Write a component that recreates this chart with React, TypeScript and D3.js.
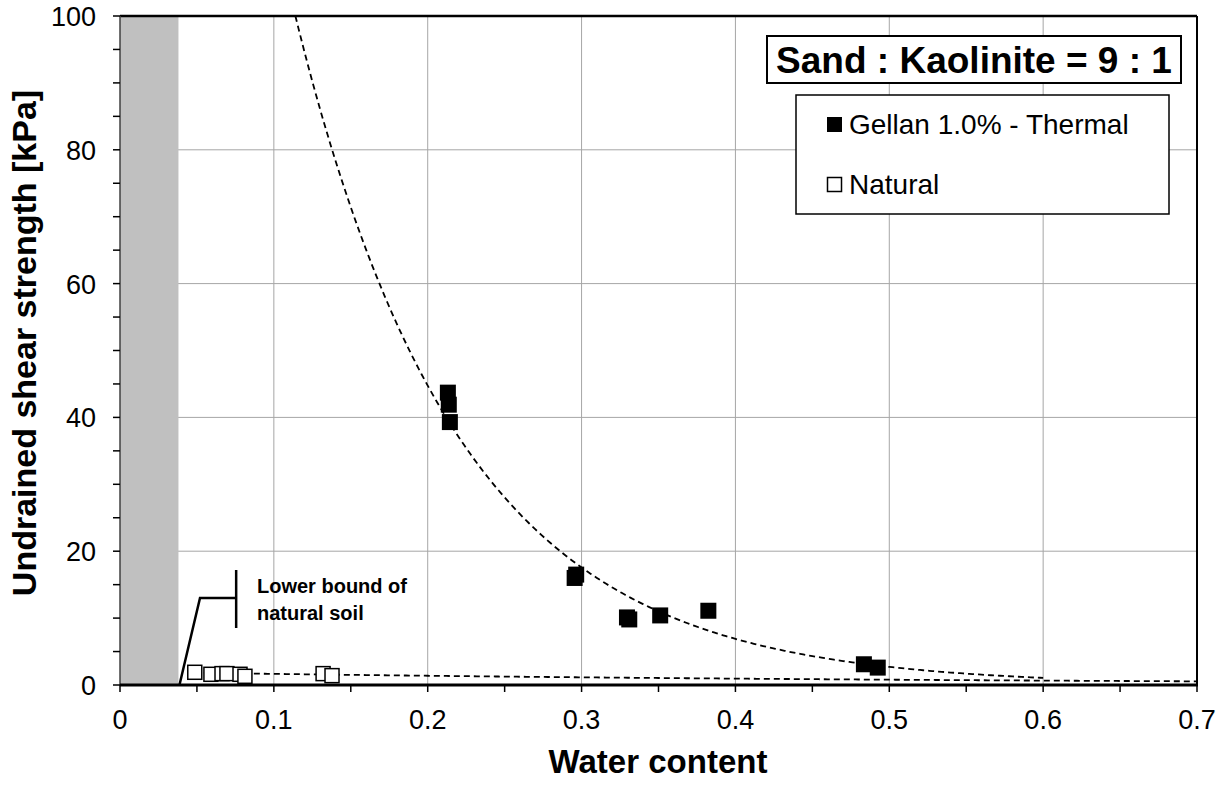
import React from "react";
import * as d3 from "d3";

const xTicks = [0, 0.1, 0.2, 0.3, 0.4, 0.5, 0.6, 0.7];
const yTicks = [0, 20, 40, 60, 80, 100];
const xMinor = [0.05, 0.15, 0.25, 0.35, 0.45, 0.55, 0.65];
const yMinor = [5, 10, 15, 25, 30, 35, 45, 50, 55, 65, 70, 75, 85, 90, 95];

const gellanX = [0.2131, 0.2137, 0.2144, 0.2955, 0.2965, 0.3295, 0.3310, 0.3511, 0.3824, 0.4835, 0.4925];
const gellanY = [43.7, 41.9, 39.3, 16.0, 16.5, 10.1, 9.8, 10.4, 11.1, 3.1, 2.6];

const naturalX = [0.0486, 0.0591, 0.0663, 0.0695, 0.078, 0.0812, 0.132, 0.1378];
const naturalY = [1.9, 1.6, 1.7, 1.7, 1.6, 1.3, 1.7, 1.4];

// trendline parameters (y = a * exp(-b x))
const gellanFit = { a: 100 * Math.exp(9.35 * 0.114), b: 9.35, x0: 0.114, x1: 0.6 };
const naturalFit = { a: 2.0, b: 1.85, x0: 0.048, x1: 0.7 };

const lowerBound = 0.038;

export default function App() {
  const W = 1231, H = 808;
  const left = 120, right = 1197, top = 16, bottom = 685;
  const x = d3.scaleLinear().domain([0, 0.7]).range([left, right]);
  const y = d3.scaleLinear().domain([0, 100]).range([bottom, top]);
  const font = "'Liberation Sans', Arial, sans-serif";

  const fitPath = (f: { a: number; b: number; x0: number; x1: number }) => {
    const xs = d3.range(f.x0, f.x1 + 1e-9, 0.002);
    return d3.line<number>().x((v) => x(v)).y((v) => y(f.a * Math.exp(-f.b * v)))(xs) || "";
  };

  const gs = 16, ns = 14;

  return (
    <svg width={W} height={H} style={{ position: "absolute", left: 0, top: 0, background: "#fff" }}>
      <rect x={0} y={0} width={W} height={H} fill="#fff" />
      {/* grid */}
      {xTicks.slice(1, -1).map((t) => (
        <line key={"gx" + t} x1={x(t)} x2={x(t)} y1={top} y2={bottom} stroke="#a6a6a6" strokeWidth={1} />
      ))}
      {yTicks.slice(1, -1).map((t) => (
        <line key={"gy" + t} x1={left} x2={right} y1={y(t)} y2={y(t)} stroke="#a6a6a6" strokeWidth={1} />
      ))}
      {/* gray band */}
      <rect x={x(0)} y={top} width={x(lowerBound) - x(0)} height={bottom - top} fill="#c0c0c0" />
      {/* frame */}
      <line x1={left} x2={right} y1={top} y2={top} stroke="#000" strokeWidth={2.5} />
      <line x1={right} x2={right} y1={top} y2={bottom} stroke="#000" strokeWidth={2} />
      <line x1={left} x2={left} y1={top} y2={bottom} stroke="#404040" strokeWidth={1.5} />
      <line x1={left} x2={right + 1} y1={bottom} y2={bottom} stroke="#000" strokeWidth={3} />
      {/* ticks */}
      {[...xTicks, ...xMinor].map((t) => (
        <line key={"tx" + t} x1={x(t)} x2={x(t)} y1={bottom} y2={bottom + 7} stroke="#000" strokeWidth={1.5} />
      ))}
      {[...yTicks, ...yMinor].map((t) => (
        <line key={"ty" + t} x1={left - 7} x2={left} y1={y(t)} y2={y(t)} stroke="#000" strokeWidth={1.5} />
      ))}
      {xTicks.map((t) => (
        <text key={"lx" + t} x={x(t)} y={bottom + 44} textAnchor="middle" fontFamily={font} fontSize={27} fill="#000">
          {t === 0 ? "0" : d3.format(".1f")(t)}
        </text>
      ))}
      {yTicks.map((t) => (
        <text key={"ly" + t} x={left - 24} y={y(t) + 10} textAnchor="end" fontFamily={font} fontSize={27} fill="#000">
          {t}
        </text>
      ))}
      {/* fits */}
      <path d={fitPath(gellanFit)} fill="none" stroke="#000" strokeWidth={1.8} strokeDasharray="6,4" />
      <path d={fitPath(naturalFit)} fill="none" stroke="#000" strokeWidth={1.8} strokeDasharray="6,4" />
      {/* natural points */}
      {naturalX.map((v, i) => (
        <rect key={"n" + i} x={x(v) - ns / 2} y={y(naturalY[i]) - ns / 2} width={ns} height={ns} fill="#fff" stroke="#000" strokeWidth={1.5} />
      ))}
      {/* gellan points */}
      {gellanX.map((v, i) => (
        <rect key={"g" + i} x={x(v) - gs / 2} y={y(gellanY[i]) - gs / 2} width={gs} height={gs} fill="#000" />
      ))}
      {/* lower bound annotation */}
      <polyline points={`${x(lowerBound) + 1},${bottom} ${x(0.052)},${598} ${x(0.0755)},${598}`} fill="none" stroke="#000" strokeWidth={2.5} />
      <line x1={x(0.0755)} x2={x(0.0755)} y1={570} y2={628} stroke="#000" strokeWidth={2.5} />
      <text x={257} y={593} fontFamily={font} fontSize={20} fontWeight="bold" fill="#000">Lower bound of</text>
      <text x={257} y={620} fontFamily={font} fontSize={20} fontWeight="bold" fill="#000">natural soil</text>
      {/* title box */}
      <rect x={767} y={36} width={414} height={47} fill="#fff" stroke="#000" strokeWidth={2} />
      <text x={974} y={73} textAnchor="middle" fontFamily={font} fontSize={37} fontWeight="bold" fill="#000">Sand : Kaolinite = 9 : 1</text>
      {/* legend */}
      <rect x={796} y={95} width={373} height={119} fill="#fff" stroke="#000" strokeWidth={1.5} />
      <rect x={827} y={117} width={15} height={15} fill="#000" />
      <text x={849} y={134} fontFamily={font} fontSize={28} fill="#000">Gellan 1.0% - Thermal</text>
      <rect x={827.5} y={177.5} width={14} height={14} fill="#fff" stroke="#000" strokeWidth={1.5} />
      <text x={849} y={194} fontFamily={font} fontSize={28} fill="#000">Natural</text>
      {/* axis titles */}
      <text x={658} y={773} textAnchor="middle" fontFamily={font} fontSize={33} fontWeight="bold" fill="#000">Water content</text>
      <text transform={`translate(36, 343) rotate(-90)`} textAnchor="middle" fontFamily={font} fontSize={34} fontWeight="bold" fill="#000">Undrained shear strength [kPa]</text>
    </svg>
  );
}
